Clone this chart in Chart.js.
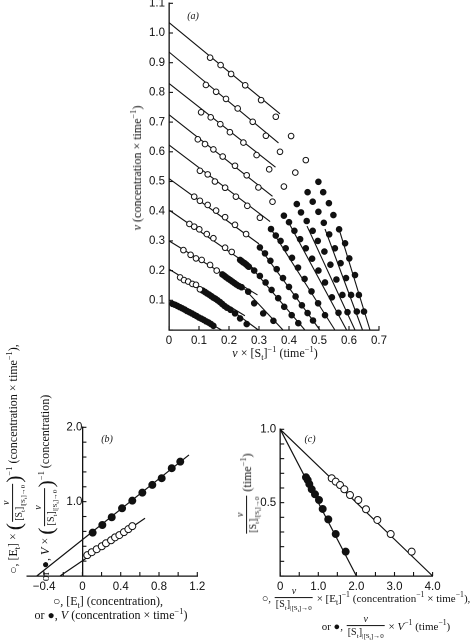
<!DOCTYPE html>
<html><head><meta charset="utf-8">
<script src="https://cdn.jsdelivr.net/npm/chart.js@4.4.1/dist/chart.umd.min.js"></script>
<style>
html,body{margin:0;padding:0;background:#fff;width:474px;height:644px;overflow:hidden;position:relative;}
canvas{position:absolute;}
.t{position:absolute;font-family:"Liberation Serif","DejaVu Serif",serif;font-size:12px;color:#111;white-space:nowrap;line-height:1;}
.c{transform:translate(-50%,-50%);}
.r{transform:translate(-50%,-50%) rotate(-90deg);}
.frac{display:inline-flex;flex-direction:column;align-items:center;vertical-align:middle;font-size:10px;margin:0 1px;line-height:1.05;}
.frac .n{font-style:italic;padding:0 1px;}
.frac .d{border-top:1px solid #111;padding:1px 1px 0;}
.ss{font-size:7px;vertical-align:-3px;}
.big{font-size:22px;vertical-align:middle;line-height:1;font-weight:300;}
sub,sup{font-size:0.7em;line-height:0;}
.lab{position:absolute;font-family:"Liberation Serif",serif;font-style:italic;font-size:10px;color:#111;transform:translate(-50%,-50%);}
</style></head>
<body>
<canvas id="ca" width="300" height="380" style="left:100px;top:-10px;"></canvas>
<canvas id="cb" width="220" height="200" style="left:0px;top:410px;"></canvas>
<canvas id="cc" width="234" height="200" style="left:240px;top:410px;"></canvas>

<div class="lab" style="left:193px;top:15px;">(a)</div>
<div class="lab" style="left:107px;top:438px;">(b)</div>
<div class="lab" style="left:310px;top:438px;">(c)</div>

<div class="t r" style="left:137px;top:168px;"><i>v</i> (concentration × time<sup>−1</sup>)</div>
<div class="t c" style="left:275px;top:353px;"><i>v</i> × [S<sub>t</sub>]<sup>−1</sup> (time<sup>−1</sup>)</div>

<div class="t r" style="left:14px;top:459px;">○, [E<sub>t</sub>] × <span class="big">(</span><span class="frac"><span class="n">v</span><span class="d">[S<sub>t</sub>]<span class="ss">|[S<sub>t</sub>]→0</span></span></span><span class="big">)</span><sup>−1</sup> (concentration × time<sup>−1</sup>),</div>
<div class="t r" style="left:46px;top:488px;">or ●, <i>V</i> × <span class="big">(</span><span class="frac"><span class="n">v</span><span class="d">[S<sub>t</sub>]<span class="ss">|[S<sub>t</sub>]→0</span></span></span><span class="big">)</span><sup>−1</sup> (concentration)</div>
<div class="t c" style="left:108px;top:601px;">○, [E<sub>t</sub>] (concentration),</div>
<div class="t c" style="left:111px;top:615px;">or ●, <i>V</i> (concentration × time<sup>−1</sup>)</div>

<div class="t r" style="left:248px;top:494px;"><span class="frac"><span class="n">v</span><span class="d">[S<sub>t</sub>]<span class="ss">|[S<sub>t</sub>]→0</span></span></span> (time<sup>−1</sup>)</div>
<div class="t c" style="left:366px;top:599px;font-size:11px;">○, <span class="frac"><span class="n">v</span><span class="d">[S<sub>t</sub>]<span class="ss">|[S<sub>t</sub>]→0</span></span></span> × [E<sub>t</sub>]<sup>−1</sup> (concentration<sup>−1</sup> × time<sup>−1</sup>),</div>
<div class="t c" style="left:386px;top:627px;font-size:11px;">or ●, <span class="frac"><span class="n">v</span><span class="d">[S<sub>t</sub>]<span class="ss">|[S<sub>t</sub>]→0</span></span></span> × <i>V</i><sup>−1</sup> (time<sup>−1</sup>)</div>

<script>
// ---------- Panel (a) ----------
const aXTicks = [0, 0.1, 0.2, 0.3, 0.4, 0.5, 0.6, 0.7];
const aXLabels = ['0', '0.1', '0.2', '0.3', '0.4', '0.5', '0.6', '0.7'];
const aYTicks = [0, 0.1, 0.2, 0.3, 0.4, 0.5, 0.6, 0.7, 0.8, 0.9, 1.0, 1.1];
const aYLabels = ['', '0.1', '0.2', '0.3', '0.4', '0.5', '0.6', '0.7', '0.8', '0.9', '1.0', '1.1'];

const aOpenLines = [
  [[0, 1.035], [0.37, 0.728]],
  [[0, 0.936], [0.365, 0.63]],
  [[0, 0.83], [0.355, 0.548]],
  [[0, 0.725], [0.345, 0.45]],
  [[0, 0.623], [0.337, 0.365]],
  [[0, 0.51], [0.30, 0.29]],
  [[0, 0.404], [0.292, 0.20]],
  [[0, 0.30], [0.295, 0.118]],
  [[0, 0.205], [0.253, 0.048]],
  [[0, 0.10], [0.175, 0]]
];
const aFilledLines = [
  [[0.21, 0.065], [0.298, 0]],
  [[0.245, 0.145], [0.38, 0]],
  [[0.275, 0.21], [0.453, 0]],
  [[0.30, 0.28], [0.503, 0]],
  [[0.34, 0.34], [0.553, 0]],
  [[0.40, 0.36], [0.592, 0]],
  [[0.46, 0.35], [0.62, 0]],
  [[0.52, 0.34], [0.645, 0]],
  [[0.567, 0.339], [0.67, 0]]
];

const aOpen1 = [[0.137,0.917],[0.172,0.892],[0.207,0.862],[0.254,0.824],[0.307,0.774],[0.356,0.718]];
const aOpen2 = [[0.123,0.825],[0.157,0.802],[0.19,0.778],[0.229,0.746],[0.279,0.701],[0.323,0.654],[0.37,0.60]];
const aOpen3 = [[0.107,0.733],[0.139,0.716],[0.171,0.693],[0.203,0.666],[0.248,0.631],[0.292,0.589],[0.334,0.541]];
const aOpen4 = [[0.096,0.642],[0.12,0.626],[0.148,0.608],[0.179,0.584],[0.22,0.553],[0.259,0.521],[0.298,0.48]];
const aOpen5 = [[0.103,0.536],[0.129,0.524],[0.153,0.50],[0.187,0.479],[0.223,0.449],[0.261,0.418],[0.303,0.378]];
const aOpen6 = [[0.084,0.449],[0.103,0.435],[0.129,0.421],[0.157,0.402],[0.187,0.38],[0.22,0.354],[0.257,0.323]];
const aOpen7 = [[0.068,0.357],[0.084,0.348],[0.101,0.339],[0.126,0.323],[0.148,0.309],[0.187,0.277],[0.209,0.263]];
const aOpen8 = [[0.048,0.269],[0.072,0.253],[0.09,0.241],[0.109,0.236],[0.137,0.219],[0.159,0.20]];
const aOpen9 = [[0.037,0.177],[0.05,0.168],[0.064,0.163],[0.078,0.155],[0.09,0.152],[0.103,0.137]];
const aOpenExtra = [[0.407,0.653],[0.456,0.572],[0.421,0.53],[0.383,0.483],[0.345,0.432]];

const aDense7 = [[0.237,0.236],[0.242,0.232],[0.247,0.228],[0.252,0.225],[0.257,0.221],[0.262,0.216],[0.266,0.213]];
const aDense8 = [[0.178,0.187],[0.184,0.183],[0.19,0.178],[0.197,0.173],[0.204,0.168],[0.211,0.163],[0.218,0.158],[0.225,0.153],[0.233,0.148],[0.242,0.144]];
const aDense9 = [[0.112,0.133],[0.12,0.128],[0.127,0.123],[0.134,0.119],[0.141,0.114],[0.148,0.109],[0.155,0.105],[0.162,0.100],[0.17,0.094],[0.177,0.088],[0.185,0.081],[0.193,0.075],[0.205,0.068]];
const aDense10 = [[0.012,0.088],[0.02,0.085],[0.028,0.081],[0.036,0.077],[0.044,0.073],[0.052,0.069],[0.06,0.064],[0.068,0.060],[0.076,0.056],[0.084,0.051],[0.092,0.047],[0.10,0.042],[0.108,0.038],[0.116,0.034],[0.124,0.029],[0.132,0.025],[0.14,0.020],[0.148,0.014]];

const aFill2 = [[0.22,0.056],[0.237,0.039],[0.259,0.02]];
const aFill3 = [[0.264,0.129],[0.284,0.09],[0.314,0.056],[0.348,0.031]];
const aFill4 = [[0.284,0.20],[0.303,0.182],[0.322,0.16],[0.342,0.135],[0.364,0.107],[0.384,0.078],[0.409,0.05],[0.431,0.023]];
const aFill5 = [[0.303,0.278],[0.32,0.258],[0.338,0.233],[0.359,0.205],[0.38,0.175],[0.40,0.145],[0.422,0.113],[0.443,0.083],[0.462,0.057],[0.48,0.032]];
const aFill6 = [[0.34,0.34],[0.356,0.318],[0.372,0.30],[0.389,0.275],[0.41,0.243],[0.43,0.21],[0.452,0.172],[0.475,0.13],[0.497,0.09],[0.52,0.05]];
const aFill7 = [[0.383,0.385],[0.40,0.363],[0.418,0.334],[0.437,0.306],[0.456,0.275],[0.477,0.24],[0.498,0.20],[0.52,0.16],[0.543,0.11],[0.565,0.058]];
const aFill8 = [[0.426,0.424],[0.44,0.396],[0.459,0.367],[0.479,0.334],[0.496,0.30],[0.518,0.264],[0.538,0.22],[0.558,0.17],[0.578,0.118],[0.595,0.06]];
const aFill9 = [[0.462,0.464],[0.479,0.432],[0.498,0.398],[0.516,0.361],[0.534,0.322],[0.553,0.275],[0.572,0.225],[0.59,0.175],[0.607,0.118],[0.626,0.062]];
const aFill10 = [[0.498,0.499],[0.514,0.464],[0.533,0.427],[0.548,0.387],[0.567,0.339],[0.587,0.292],[0.601,0.241],[0.62,0.185],[0.633,0.118],[0.65,0.062]];

// ---------- Panel (b) ----------
const bXTicks = [-0.4, -0.2, 0, 0.2, 0.4, 0.6, 0.8, 1.0, 1.2];
const bXLabels = ['\u22120.4', '', '0', '', '0.4', '', '0.8', '', '1.2'];
const bYTicks = [0, 0.2, 0.4, 0.6, 0.8, 1.0, 1.2, 1.4, 1.6, 1.8, 2.0];
const bYLabels = ['', '', '', '', '', '1.0', '', '', '', '', '2.0'];
const bFilledX = [0.107, 0.208, 0.306, 0.414, 0.521, 0.626, 0.73, 0.828, 0.933, 1.022];
const bFilledY = [0.583, 0.686, 0.79, 0.911, 1.013, 1.121, 1.225, 1.315, 1.45, 1.538];
const bOpenX = [0.051, 0.097, 0.149, 0.202, 0.246, 0.299, 0.341, 0.386, 0.434, 0.48, 0.521];
const bOpenY = [0.28, 0.32, 0.36, 0.40, 0.44, 0.48, 0.52, 0.55, 0.59, 0.63, 0.67];
const bFilledLine = [[-0.477, 0], [1.113, 1.628]];
const bOpenLine = [[-0.234, 0], [0.654, 0.776]];

// ---------- Panel (c) ----------
const cXTicks = [0, 0.5, 1.0, 1.5, 2.0, 2.5, 3.0, 3.5, 4.0];
const cXLabels = ['0', '', '1.0', '', '2.0', '', '3.0', '', '4.0'];
const cYTicks = [0, 0.1, 0.2, 0.3, 0.4, 0.5, 0.6, 0.7, 0.8, 0.9, 1.0];
const cYLabels = ['', '', '', '', '', '0.5', '', '', '', '', '1.0'];
const cOpenX = [1.352, 1.457, 1.570, 1.683, 1.832, 2.05, 2.252, 2.549, 2.9, 3.45];
const cOpenY = [0.666, 0.643, 0.620, 0.591, 0.552, 0.518, 0.455, 0.382, 0.286, 0.166];
const cFilledX = [0.677, 0.722, 0.764, 0.827, 0.913, 1.018, 1.115, 1.262, 1.457, 1.719];
const cFilledY = [0.673, 0.654, 0.627, 0.591, 0.557, 0.518, 0.457, 0.386, 0.286, 0.166];
const cOpenLine = [[0, 1.0], [4.0, 0]];
const cFilledLine = [[0, 1.0], [2.0, 0]];

// ---------- helpers ----------
const INK = '#111';
const pairs = arr => arr.map(([x, y]) => ({x, y}));
const zipXY = (xs, ys) => xs.map((x, i) => ({x, y: ys[i]}));
function dots(data, filled, r) {
  return {data, showLine: false, pointRadius: r, pointHoverRadius: r,
    pointBackgroundColor: filled ? INK : '#fff', pointBorderColor: INK,
    pointBorderWidth: 1, order: 0, clip: false};
}
function seg(arr, w) {
  return {data: pairs(arr), showLine: true, borderColor: INK, borderWidth: w || 1.1,
    pointRadius: 0, order: 1, fill: false, tension: 0, clip: false};
}

const innerTicks = {
  id: 'innerTicks',
  afterDatasetsDraw(chart, args, o) {
    const ctx = chart.ctx, xs = chart.scales.x, ys = chart.scales.y;
    ctx.save();
    ctx.strokeStyle = INK; ctx.lineWidth = 1.1;
    const len = o.len || 4;
    const yb = ys.getPixelForValue(ys.min);
    (o.xt || []).forEach(v => {
      const p = xs.getPixelForValue(v);
      ctx.beginPath(); ctx.moveTo(p, yb); ctx.lineTo(p, yb - len); ctx.stroke();
    });
    const xa = xs.getPixelForValue(o.yAxisAt !== undefined ? o.yAxisAt : xs.min);
    (o.yt || []).forEach(v => {
      const p = ys.getPixelForValue(v);
      ctx.beginPath(); ctx.moveTo(xa, p); ctx.lineTo(xa + len, p); ctx.stroke();
    });
    ctx.restore();
  }
};

function axis(min, max, ticks, labels, fitKey, fitVal, extra) {
  const s = {
    type: 'linear', min, max,
    afterBuildTicks: sc => { sc.ticks = ticks.map(v => ({value: v})); },
    ticks: {
      autoSkip: false, maxRotation: 0, color: INK, padding: 4,
      font: {family: '"Liberation Sans", Arial, sans-serif', size: 11.5},
      callback: (v, i) => labels[i]
    },
    grid: {display: true, drawOnChartArea: false, drawTicks: false, color: INK},
    border: {display: true, color: INK, width: 1.3}
  };
  if (fitKey) s.afterFit = sc => { sc[fitKey] = fitVal; };
  return Object.assign(s, extra || {});
}

function make(id, datasets, scales, padding, tickOpts) {
  return new Chart(document.getElementById(id), {
    type: 'scatter',
    data: {datasets},
    options: {
      responsive: false, animation: false, devicePixelRatio: 2,
      layout: {padding},
      plugins: {legend: {display: false}, tooltip: {enabled: false}, innerTicks: tickOpts},
      scales
    },
    plugins: [innerTicks]
  });
}

// ---------- chart (a) ----------
const aDatasets = [];
[aOpen1, aOpen2, aOpen3, aOpen4, aOpen5, aOpen6, aOpen7, aOpen8, aOpen9, aOpenExtra]
  .forEach(a => aDatasets.push(dots(pairs(a), false, 2.8)));
[aDense7, aDense8, aDense9, aDense10, aFill2, aFill3, aFill4, aFill5, aFill6, aFill7, aFill8, aFill9, aFill10]
  .forEach(a => aDatasets.push(dots(pairs(a), true, 2.8)));
aOpenLines.forEach(l => aDatasets.push(seg(l)));
aFilledLines.forEach(l => aDatasets.push(seg(l)));
make('ca', aDatasets, {
  x: axis(0, 0.7, aXTicks, aXLabels, 'height', 40, {position: 'bottom'}),
  y: axis(0, 1.1, aYTicks, aYLabels, 'width', 69, {position: 'left'})
}, {top: 13.3, right: 21, left: 0, bottom: 0}, {xt: aXTicks, yt: aYTicks, len: 4});

// ---------- chart (b) ----------
make('cb', [
  dots(zipXY(bFilledX, bFilledY), true, 3.5),
  dots(zipXY(bOpenX, bOpenY), false, 3.5),
  seg(bFilledLine, 1.2),
  seg(bOpenLine, 1.2)
], {
  x: axis(-0.58, 1.2, bXTicks, bXLabels, 'height', 34, {position: 'bottom'}),
  y: axis(0, 2.0, bYTicks, bYLabels, null, null, {position: {x: 0}})
}, {top: 17.3, right: 22.7, left: 26.9, bottom: 0}, {xt: bXTicks, yt: bYTicks, yAxisAt: 0, len: 4});

// ---------- chart (c) ----------
make('cc', [
  dots(zipXY(cOpenX, cOpenY), false, 3.5),
  dots(zipXY(cFilledX, cFilledY), true, 3.5),
  seg(cOpenLine, 1.2),
  seg(cFilledLine, 1.2)
], {
  x: axis(0, 4.0, cXTicks, cXLabels, 'height', 34, {position: 'bottom'}),
  y: axis(0, 1.0, cYTicks, cYLabels, 'width', 40.2, {position: 'left'})
}, {top: 19.3, right: 41.4, left: 0, bottom: 0}, {xt: cXTicks, yt: cYTicks, len: 4});
</script>
</body></html>
